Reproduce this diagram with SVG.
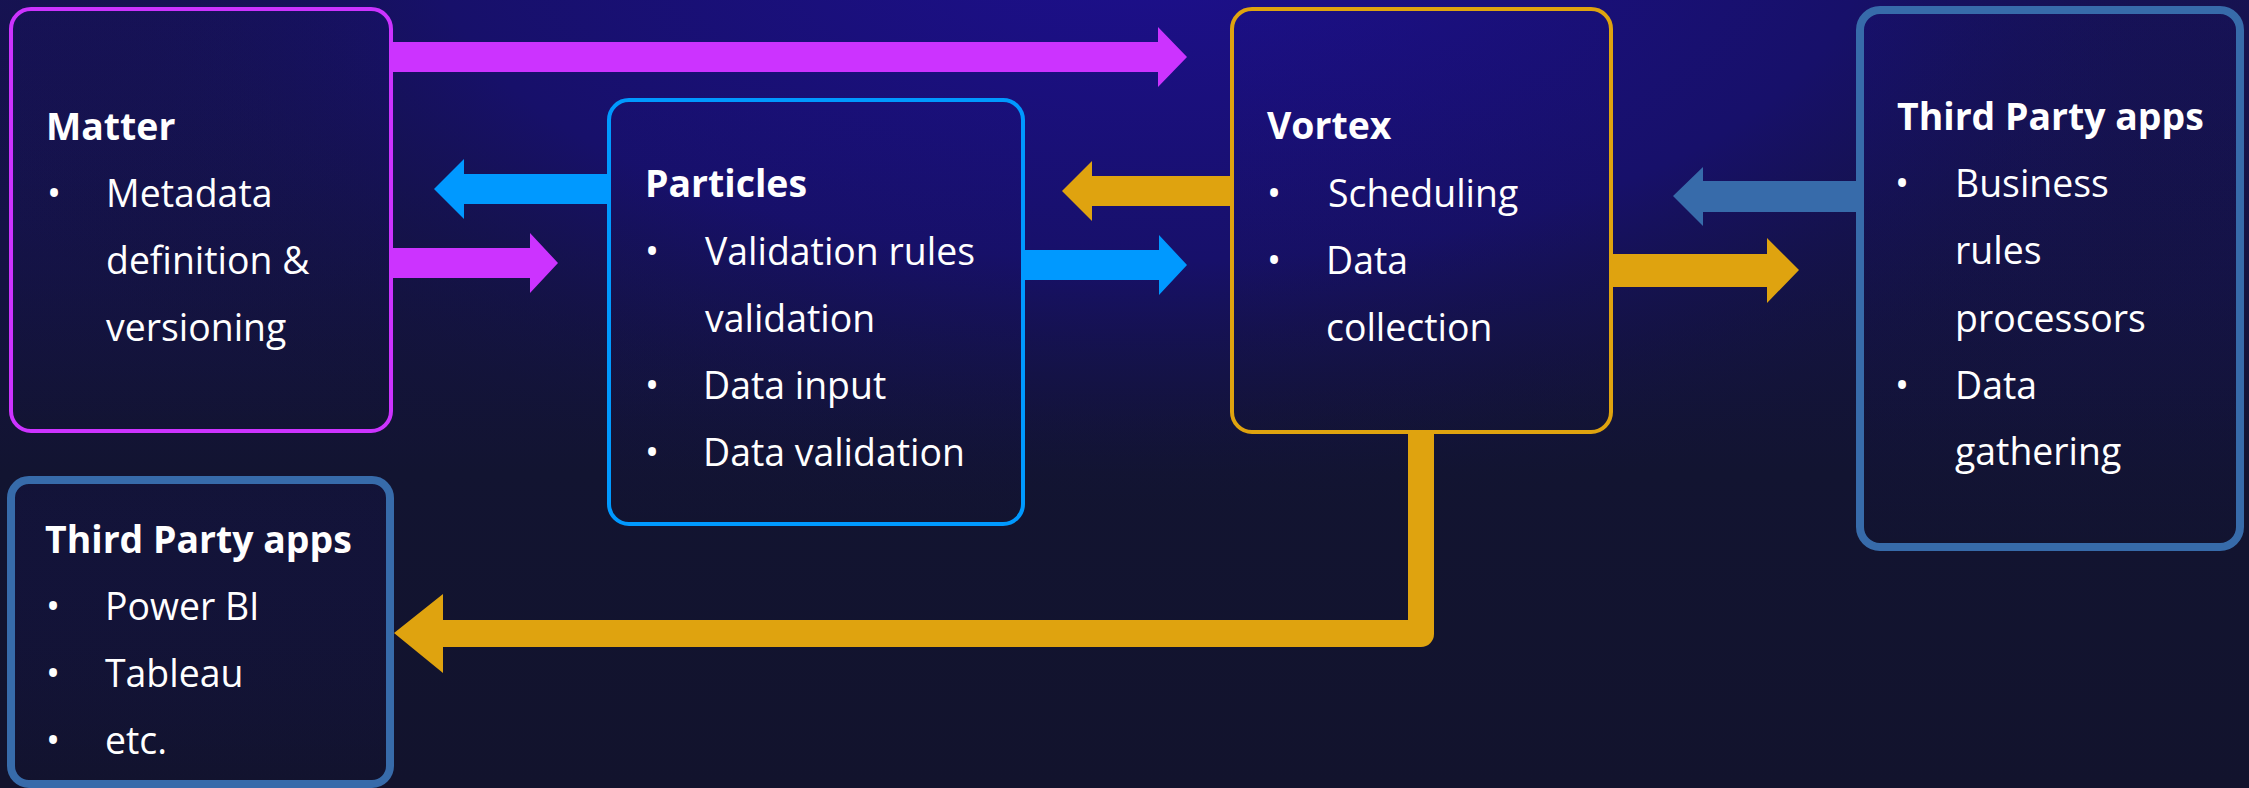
<svg xmlns="http://www.w3.org/2000/svg" width="2249" height="788" viewBox="0 0 2249 788">
  <defs>
    <radialGradient id="glow" cx="1150" cy="-60" r="1300" gradientUnits="userSpaceOnUse" gradientTransform="translate(1150 -60) scale(1 0.45) translate(-1150 60)">
      <stop offset="0" stop-color="#1d0f8e"/>
      <stop offset="0.55" stop-color="#17106a"/>
      <stop offset="1" stop-color="#121430" stop-opacity="0"/>
    </radialGradient>
    <linearGradient id="bg" x1="0" y1="0" x2="0" y2="1">
      <stop offset="0" stop-color="#171258"/>
      <stop offset="0.6" stop-color="#121431"/>
      <stop offset="1" stop-color="#12132d"/>
    </linearGradient>
    <linearGradient id="boxfill" x1="0" y1="0" x2="0" y2="1">
      <stop offset="0" stop-color="#1a1080" stop-opacity="0.1"/>
      <stop offset="1" stop-color="#121330" stop-opacity="0.3"/>
    </linearGradient>
    <style>
      .t { font-family: "Open Sans", "Liberation Sans", sans-serif; font-size: 37.4px; fill: #ffffff; }
      .h { font-weight: 700; }
      .box { fill: url(#boxfill); }
      .thin { stroke-width: 4; }
      .thick { stroke-width: 8; }
      .mag { fill: #cc33ff; }
      .blu { fill: #0099ff; }
      .gld { fill: #dfa30f; }
      .stl { fill: #376baa; }
    </style>
  </defs>

  <rect x="0" y="0" width="2249" height="788" fill="url(#bg)"/>
  <rect x="0" y="0" width="2249" height="788" fill="url(#glow)"/>

  <g id="connectors">
    <polygon class="mag" points="391,42 1158,42 1158,27 1187,57 1158,87 1158,72 391,72"/>
    <polygon class="mag" points="391,248 530,248 530,233 558,263 530,293 530,278 391,278"/>
    <polygon class="blu" points="609,174 464,174 464,159 434,189 464,219 464,204 609,204"/>
    <polygon class="blu" points="1023,250 1159,250 1159,235 1187,265 1159,295 1159,280 1023,280"/>
    <polygon class="gld" points="1232,176 1092,176 1092,161 1062,191 1092,221 1092,206 1232,206"/>
    <polygon class="stl" points="1860,181 1703,181 1703,167 1673,196 1703,226 1703,212 1860,212"/>
    <polygon class="gld" points="1611,254 1767,254 1767,238 1799,270 1767,303 1767,287 1611,287"/>
    <path class="gld" d="M1408,432 H1434 V634 A13,13 0 0 1 1421,647 H443 V673 L394,633 L443,594 V620 H1408 Z"/>
  </g>

  <g id="matter">
    <rect class="box thin" x="11" y="9" width="380" height="422" rx="20" stroke="#cc33ff"/>
    <text class="t h" x="46" y="140">Matter</text>
    <text class="t" x="47" y="207">•</text>
    <text class="t" x="106" y="207">Metadata</text>
    <text class="t" x="106" y="274">definition &amp;</text>
    <text class="t" x="106" y="341">versioning</text>
  </g>

  <g id="particles">
    <rect class="box thin" x="609" y="100" width="414" height="424" rx="20" stroke="#0099ff"/>
    <text class="t h" x="645" y="197">Particles</text>
    <text class="t" x="645" y="265">•</text>
    <text class="t" x="705" y="265">Validation rules</text>
    <text class="t" x="705" y="332">validation</text>
    <text class="t" x="645" y="399">•</text>
    <text class="t" x="703" y="399">Data input</text>
    <text class="t" x="645" y="466">•</text>
    <text class="t" x="703" y="466">Data validation</text>
  </g>

  <g id="vortex">
    <rect class="box thin" x="1232" y="9" width="379" height="423" rx="20" stroke="#dfa30f"/>
    <text class="t h" x="1267" y="139">Vortex</text>
    <text class="t" x="1267" y="207">•</text>
    <text class="t" x="1328" y="207">Scheduling</text>
    <text class="t" x="1267" y="274">•</text>
    <text class="t" x="1326" y="274">Data</text>
    <text class="t" x="1326" y="341">collection</text>
  </g>

  <g id="third-party-right">
    <rect class="box thick" x="1860" y="10" width="380" height="537" rx="20" stroke="#376baa"/>
    <text class="t h" x="1897" y="130">Third Party apps</text>
    <text class="t" x="1895" y="197">•</text>
    <text class="t" x="1955" y="197">Business</text>
    <text class="t" x="1955" y="264">rules</text>
    <text class="t" x="1955" y="332">processors</text>
    <text class="t" x="1895" y="399">•</text>
    <text class="t" x="1955" y="399">Data</text>
    <text class="t" x="1955" y="465">gathering</text>
  </g>

  <g id="third-party-left">
    <rect class="box thick" x="11" y="480" width="379" height="304" rx="18" stroke="#376baa"/>
    <text class="t h" x="45" y="553">Third Party apps</text>
    <text class="t" x="46" y="620">•</text>
    <text class="t" x="105" y="620">Power BI</text>
    <text class="t" x="46" y="687">•</text>
    <text class="t" x="105" y="687">Tableau</text>
    <text class="t" x="46" y="754">•</text>
    <text class="t" x="105" y="754">etc.</text>
  </g>
</svg>
